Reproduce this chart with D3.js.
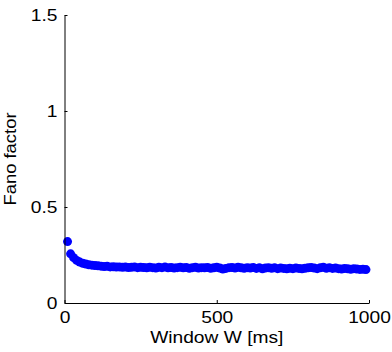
<!DOCTYPE html>
<html>
<head>
<meta charset="utf-8">
<script src="https://cdn.jsdelivr.net/npm/d3@7"></script>
<style>
  body { margin: 0; background: #fff; }
  svg { display: block; font-family: "Liberation Sans", Arial, sans-serif; }
</style>
</head>
<body>
<svg id="chart"></svg>
<script>
// Configuration
const width = 392;
const height = 352;
const margin = {top: 15, right: 23, bottom: 49, left: 64.5};
const stretch = 1.2; // reference glyphs are wider than Arial

// Window sizes (ms)
const windows = [
  10, 20, 30, 40, 50, 60, 70, 80, 90, 100,
  110, 120, 130, 140, 150, 160, 170, 180, 190, 200,
  210, 220, 230, 240, 250, 260, 270, 280, 290, 300,
  310, 320, 330, 340, 350, 360, 370, 380, 390, 400,
  410, 420, 430, 440, 450, 460, 470, 480, 490, 500,
  510, 520, 530, 540, 550, 560, 570, 580, 590, 600,
  610, 620, 630, 640, 650, 660, 670, 680, 690, 700,
  710, 720, 730, 740, 750, 760, 770, 780, 790, 800,
  810, 820, 830, 840, 850, 860, 870, 880, 890, 900,
  910, 920, 930, 940, 950, 960, 970, 980, 990
];

// Fano factor for each window
const fano = [
  0.320, 0.256, 0.236, 0.222, 0.213, 0.207, 0.203, 0.199, 0.197, 0.195,
  0.194, 0.192, 0.190, 0.191, 0.188, 0.189, 0.187, 0.188, 0.186, 0.187,
  0.185, 0.186, 0.188, 0.184, 0.186, 0.185, 0.183, 0.186, 0.184, 0.182,
  0.186, 0.184, 0.187, 0.183, 0.185, 0.182, 0.184, 0.186, 0.183, 0.185,
  0.181, 0.184, 0.186, 0.182, 0.184, 0.183, 0.185, 0.181, 0.183, 0.186,
  0.182, 0.177, 0.180, 0.184, 0.185, 0.182, 0.186, 0.183, 0.181, 0.184,
  0.182, 0.185, 0.180, 0.183, 0.178, 0.182, 0.184, 0.181, 0.183, 0.179,
  0.182, 0.180, 0.178, 0.181, 0.179, 0.182, 0.180, 0.178, 0.181, 0.183,
  0.185, 0.182, 0.179, 0.183, 0.186, 0.181, 0.184, 0.180, 0.182, 0.179,
  0.177, 0.180, 0.178, 0.176, 0.179, 0.177, 0.175, 0.176, 0.174
];

const xTicks = [0, 500, 1000];
const yTicks = [0, 0.5, 1, 1.5];

const svg = d3.select("#chart")
    .attr("width", width)
    .attr("height", height);

const x = d3.scaleLinear()
    .domain([0, 1000])
    .range([margin.left, width - margin.right]);

const y = d3.scaleLinear()
    .domain([0, 1.5])
    .range([height - margin.bottom, margin.top]);

// Points
svg.append("g")
    .selectAll("circle")
    .data(windows.map((w, i) => ({w: w, f: fano[i]})))
    .join("circle")
    .attr("cx", d => x(d.w))
    .attr("cy", d => y(d.f))
    .attr("r", 4.5)
    .attr("fill", "#0000ff");

// Axes (MATLAB style, ticks inside, no box)
const xAxis = svg.append("g")
    .attr("transform", `translate(0,${height - margin.bottom})`)
    .call(d3.axisBottom(x).tickValues(xTicks).tickFormat(d3.format("d"))
        .tickSizeInner(-3).tickSizeOuter(0).tickPadding(9));

const yAxis = svg.append("g")
    .attr("transform", `translate(${margin.left},0)`)
    .call(d3.axisLeft(y).tickValues(yTicks).tickFormat(d => String(d))
        .tickSizeInner(-3).tickSizeOuter(0).tickPadding(9));

[xAxis, yAxis].forEach(a => {
    a.select(".domain").attr("stroke", "#000").attr("stroke-width", 1);
    a.selectAll(".tick line").attr("stroke", "#000");
    a.selectAll("text")
        .attr("fill", "#000")
        .attr("transform", `scale(${stretch},1)`)
        .style("font-size", "16px")
        .style("font-family", "'Liberation Sans', Arial, sans-serif");
});
yAxis.selectAll("text").attr("x", -7 / stretch);

// Axis labels
svg.append("text")
    .attr("transform", `translate(${x(500)},343) scale(${stretch},1)`)
    .attr("text-anchor", "middle")
    .style("font-size", "16px")
    .text("Window W [ms]");

svg.append("text")
    .attr("transform", `translate(16,${y(0.75)}) rotate(-90) scale(1.15,1)`)
    .attr("text-anchor", "middle")
    .style("font-size", "16px")
    .text("Fano factor");
</script>
</body>
</html>
